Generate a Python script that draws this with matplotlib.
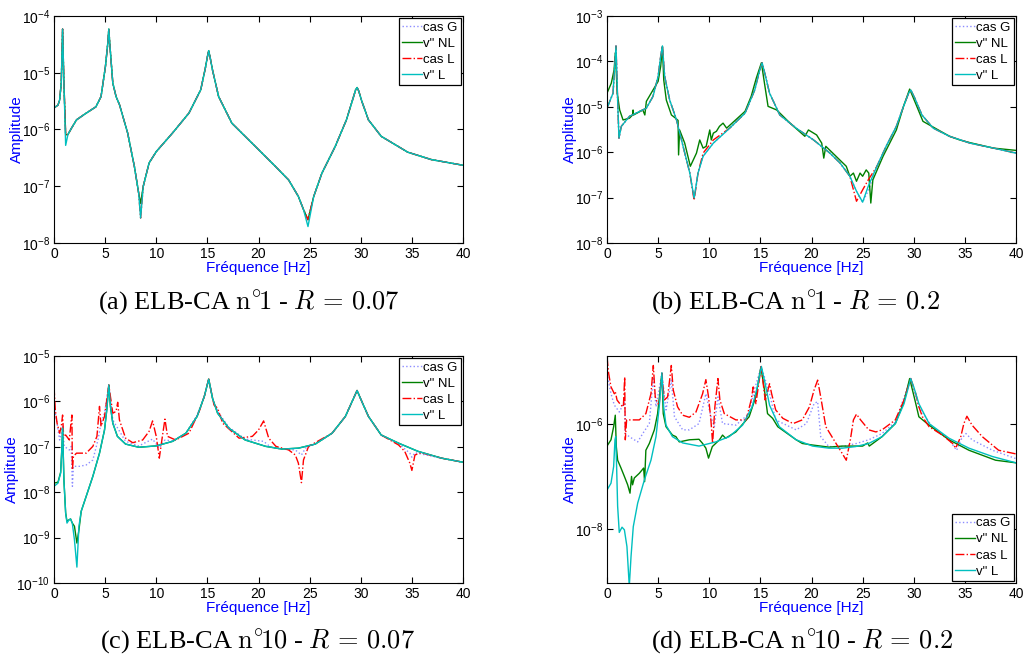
import numpy as np
import matplotlib
matplotlib.use("Agg")
import matplotlib.pyplot as plt
from matplotlib.ticker import NullLocator

plt.rcParams['font.family'] = ['Liberation Sans', 'DejaVu Sans']

# amplitudes are stored as log10 values

# (a) ELB-CA n°1 - R = 0.07
f_a = [0, 0.39, 0.55, 0.71, 0.84, 0.97, 1.14, 1.36, 1.7, 2.2,
       3.0, 4.1, 4.6, 5.03, 5.26, 5.36, 5.46, 5.75, 6.07, 6.4,
       7.2, 7.86, 8.28, 8.47, 8.73, 9.3, 10, 11.6, 13.2, 14.35,
       14.8, 15.0, 15.13, 15.28, 15.5, 16.1, 17.4, 19.7, 21.65, 22.95,
       23.9, 24.4, 24.84, 25.4, 26.2, 27.5, 28.6, 29.3, 29.5, 29.64,
       29.8, 30.1, 30.75, 32, 34.6, 36.9, 40]
a_casG = [-5.62, -5.57, -5.48, -5.18, -4.23, -5.18, -6.09, -6.09, -5.98, -5.83,
          -5.73, -5.60, -5.42, -4.89, -4.48, -4.23, -4.50, -5.18, -5.42, -5.56,
          -6.06, -6.65, -7.12, -7.30, -7.00, -6.59, -6.39, -6.06, -5.71, -5.30,
          -4.92, -4.72, -4.61, -4.74, -4.95, -5.42, -5.89, -6.30, -6.65, -6.89,
          -7.18, -7.41, -7.59, -7.18, -6.77, -6.30, -5.83, -5.42, -5.30, -5.26,
          -5.32, -5.50, -5.83, -6.12, -6.40, -6.53, -6.63]
a_vNL = [-5.62, -5.57, -5.48, -5.18, -4.23, -5.18, -6.09, -6.09, -5.98, -5.83,
         -5.73, -5.60, -5.42, -4.89, -4.48, -4.23, -4.50, -5.18, -5.42, -5.56,
         -6.06, -6.65, -7.12, -7.30, -7.00, -6.59, -6.39, -6.06, -5.71, -5.30,
         -4.92, -4.72, -4.61, -4.74, -4.95, -5.42, -5.89, -6.30, -6.65, -6.89,
         -7.18, -7.41, -7.59, -7.18, -6.77, -6.30, -5.83, -5.42, -5.30, -5.26,
         -5.32, -5.50, -5.83, -6.12, -6.40, -6.53, -6.63]
a_casL = [-5.62, -5.57, -5.48, -5.18, -4.23, -5.18, -6.09, -6.09, -5.98, -5.83,
          -5.73, -5.60, -5.42, -4.89, -4.48, -4.23, -4.50, -5.18, -5.42, -5.56,
          -6.06, -6.65, -7.12, -7.56, -7.00, -6.59, -6.39, -6.06, -5.71, -5.30,
          -4.92, -4.72, -4.61, -4.74, -4.95, -5.42, -5.89, -6.30, -6.65, -6.89,
          -7.18, -7.41, -7.59, -7.18, -6.77, -6.30, -5.83, -5.42, -5.30, -5.26,
          -5.32, -5.50, -5.83, -6.12, -6.40, -6.53, -6.63]
a_vL = [-5.62, -5.57, -5.48, -5.18, -4.23, -5.18, -6.28, -6.09, -5.98, -5.83,
        -5.73, -5.60, -5.42, -4.89, -4.48, -4.23, -4.50, -5.18, -5.42, -5.56,
        -6.06, -6.65, -7.12, -7.56, -7.00, -6.59, -6.39, -6.06, -5.71, -5.30,
        -4.92, -4.72, -4.61, -4.74, -4.95, -5.42, -5.89, -6.30, -6.65, -6.89,
        -7.18, -7.41, -7.71, -7.18, -6.77, -6.30, -5.83, -5.42, -5.30, -5.26,
        -5.32, -5.50, -5.83, -6.12, -6.40, -6.53, -6.63]

# (b) ELB-CA n°1 - R = 0.2
f_b = [0, 0.59, 0.88, 1.04, 1.17, 1.4, 2.2, 3.85, 4.5, 5.0,
       5.25, 5.42, 5.64, 6.13, 6.8, 7.44, 8.1, 8.52, 8.9, 9.4,
       10.4, 12, 13.5, 14.45, 14.94, 15.17, 15.43, 15.9, 16.9, 18.5,
       20.2, 21.8, 22.8, 23.75, 24.4, 25.0, 25.55, 26.4, 27.3, 28.3,
       29.0, 29.5, 29.72, 30.1, 30.8, 31.9, 33.5, 35.5, 37.8, 40]
b_casG = [-5.03, -4.70, -3.66, -4.85, -5.69, -5.43, -5.21, -5.03, -4.77, -4.33,
          -3.89, -3.66, -4.33, -4.85, -5.29, -5.87, -6.46, -7.03, -6.46, -6.09,
          -5.80, -5.47, -5.14, -4.63, -4.19, -4.03, -4.26, -4.70, -5.18, -5.47,
          -5.73, -6.02, -6.24, -6.53, -6.86, -7.10, -6.85, -6.31, -5.87, -5.43,
          -4.99, -4.70, -4.63, -4.81, -5.18, -5.47, -5.65, -5.80, -5.91, -6.02]
b_casL = [-5.03, -4.70, -3.66, -4.85, -5.69, -5.43, -5.21, -5.03, -4.77, -4.33,
          -3.89, -3.66, -4.33, -4.85, -5.29, -5.87, -6.46, -7.06, -6.46, -6.02,
          -5.73, -5.47, -5.14, -4.63, -4.19, -4.03, -4.26, -4.70, -5.18, -5.47,
          -5.73, -6.02, -6.24, -6.53, -7.08, -6.83, -6.61, -6.31, -5.87, -5.43,
          -4.99, -4.70, -4.63, -4.81, -5.18, -5.47, -5.65, -5.80, -5.91, -6.02]
b_vL = [-5.03, -4.70, -3.66, -4.85, -5.69, -5.43, -5.21, -5.03, -4.77, -4.33,
        -3.89, -3.66, -4.33, -4.85, -5.29, -5.87, -6.46, -7.01, -6.46, -6.09,
        -5.80, -5.47, -5.14, -4.63, -4.19, -4.03, -4.26, -4.70, -5.18, -5.47,
        -5.73, -6.02, -6.24, -6.53, -6.86, -7.10, -6.75, -6.31, -5.87, -5.43,
        -4.99, -4.70, -4.63, -4.81, -5.18, -5.47, -5.65, -5.80, -5.91, -6.02]
f_b_vNL = [0, 0.42, 0.69, 0.82, 1.0, 1.24, 1.57, 2.2, 2.5, 2.55,
           2.6, 3.5, 3.7, 3.85, 4.5, 5.0, 5.25, 5.42, 5.55, 5.8,
           6.3, 6.7, 6.95, 7.0, 7.1, 7.6, 8.15, 8.75, 9.07, 9.4,
           9.7, 10.05, 10.2, 10.4, 10.7, 11.0, 11.35, 11.7, 13.5, 14.1,
           14.6, 15.1, 15.4, 15.75, 16.6, 17.9, 19.35, 19.7, 20.5, 21.0,
           21.2, 21.4, 22.4, 23.4, 23.75, 24.1, 24.4, 24.75, 25.0, 25.35,
           25.6, 25.8, 26.0, 27.0, 28.3, 29.0, 29.6, 30.3, 30.9, 33.5,
           34.5, 35.5, 37.8, 40]
b_vNL = [-4.70, -4.48, -4.19, -3.81, -4.70, -5.07, -5.29, -5.25, -5.18, -5.07,
         -5.18, -5.07, -5.18, -4.88, -4.63, -4.44, -4.11, -3.67, -4.41, -4.85,
         -5.18, -5.25, -5.30, -6.06, -5.51, -5.80, -6.31, -6.02, -5.73, -5.91,
         -5.87, -5.51, -5.73, -5.58, -5.54, -5.43, -5.36, -5.47, -5.10, -4.77,
         -4.37, -4.03, -4.48, -4.99, -5.07, -5.36, -5.65, -5.51, -5.62, -5.80,
         -6.13, -5.87, -6.09, -6.31, -6.53, -6.46, -6.64, -6.46, -6.53, -6.39,
         -6.46, -7.12, -6.61, -6.09, -5.51, -4.99, -4.61, -4.99, -5.32, -5.65,
         -5.73, -5.79, -5.91, -5.96]

# (c) ELB-CA n°10 - R = 0.07
f_c = [0, 0.39, 0.65, 0.78, 0.84, 0.97, 1.14, 1.27, 1.46, 1.62,
       1.79, 2.0, 2.24, 2.44, 2.66, 3.15, 3.8, 4.45, 4.94, 5.16,
       5.36, 5.52, 5.75, 6.2, 7.0, 8.3, 10, 11.6, 12.9, 14.0,
       14.7, 15.13, 15.5, 16.0, 17.1, 18.7, 20.7, 22.3, 23.9, 25.55,
       27.2, 28.5, 29.3, 29.64, 30.1, 30.75, 32, 33.7, 35.6, 37.9,
       40]
c_vNL = [-7.80, -7.78, -7.56, -6.99, -6.59, -7.73, -8.46, -8.64, -8.61, -8.59,
         -8.68, -8.75, -9.12, -8.83, -8.42, -8.09, -7.65, -7.14, -6.63, -6.19,
         -5.64, -6.11, -6.48, -6.77, -6.94, -7.01, -6.98, -6.88, -6.70, -6.33,
         -5.89, -5.51, -5.93, -6.26, -6.59, -6.85, -6.99, -7.05, -7.03, -6.94,
         -6.70, -6.33, -5.93, -5.76, -6.00, -6.33, -6.74, -6.92, -7.10, -7.25,
         -7.34]
c_vL = [-7.87, -7.80, -7.58, -6.99, -6.59, -7.73, -8.46, -8.68, -8.61, -8.59,
        -8.68, -9.05, -9.65, -8.75, -8.42, -8.09, -7.65, -7.14, -6.63, -6.19,
        -5.64, -6.11, -6.48, -6.77, -6.94, -7.01, -6.98, -6.88, -6.70, -6.33,
        -5.89, -5.51, -5.93, -6.26, -6.59, -6.85, -6.99, -7.05, -7.03, -6.94,
        -6.70, -6.33, -5.93, -5.76, -6.00, -6.33, -6.74, -6.92, -7.10, -7.25,
        -7.34]
f_c_casL = [0, 0.13, 0.3, 0.55, 0.71, 0.84, 0.94, 1.14, 1.5, 1.69,
            1.75, 1.8, 1.9, 2.2, 3.15, 3.8, 4.2, 4.45, 4.6, 4.94,
            5.36, 5.75, 6.07, 6.23, 6.4, 7.0, 7.7, 8.67, 9.3, 9.64,
            10.0, 10.3, 10.6, 10.85, 11.1, 11.9, 13.2, 14.2, 14.7, 15.13,
            15.65, 16.0, 16.5, 18.1, 19.4, 20.0, 20.5, 21.0, 21.7, 22.95,
            23.6, 23.9, 24.2, 24.4, 24.9, 27.2, 28.5, 29.3, 29.64, 30.1,
            30.75, 32, 33.7, 34.3, 34.8, 35.0, 35.3, 35.9, 37.9, 40]
c_casL = [-5.67, -6.19, -6.48, -6.70, -6.55, -6.30, -6.77, -6.74, -6.85, -6.41,
          -6.30, -7.51, -7.21, -7.14, -7.14, -6.99, -6.77, -6.11, -6.55, -6.33,
          -5.64, -6.26, -6.22, -6.02, -6.41, -6.81, -6.91, -6.85, -6.66, -6.43,
          -6.77, -7.25, -6.77, -6.39, -6.77, -6.85, -6.70, -6.22, -5.89, -5.51,
          -6.08, -6.15, -6.48, -6.81, -6.77, -6.63, -6.43, -6.81, -6.99, -7.07,
          -7.18, -7.36, -7.79, -7.29, -6.99, -6.70, -6.33, -5.93, -5.76, -6.00,
          -6.33, -6.74, -6.96, -7.10, -7.36, -7.52, -7.18, -7.13, -7.25, -7.34]
f_c_casG = [0, 0.3, 0.55, 0.84, 1.0, 1.5, 1.69, 1.8, 1.9, 2.5,
            3.15, 3.8, 4.3, 4.6, 4.94, 5.36, 5.75, 6.23, 7.0, 8.3,
            9.64, 10.3, 10.85, 11.6, 12.9, 14.0, 14.7, 15.13, 15.5, 16.0,
            17.1, 18.7, 20.5, 21.2, 22.3, 23.6, 24.2, 24.6, 25.55, 27.2,
            28.5, 29.3, 29.64, 30.1, 30.75, 32, 33.7, 34.8, 35.0, 35.3,
            37.9, 40]
c_casG = [-6.11, -6.48, -6.85, -6.55, -6.99, -7.07, -6.99, -7.87, -7.43, -7.43,
          -7.40, -7.29, -6.85, -6.48, -6.26, -5.64, -6.41, -6.59, -6.88, -6.98,
          -6.83, -7.03, -6.85, -6.87, -6.70, -6.30, -5.89, -5.51, -5.93, -6.22,
          -6.57, -6.83, -6.88, -7.01, -7.05, -7.07, -7.18, -7.03, -6.94, -6.70,
          -6.33, -5.93, -5.76, -6.00, -6.33, -6.74, -6.93, -7.14, -7.23, -7.13,
          -7.25, -7.34]

# (d) ELB-CA n°10 - R = 0.2
f_d_vL = [0, 0.39, 0.65, 0.78, 0.85, 0.94, 1.04, 1.2, 1.47, 1.7,
          1.95, 2.18, 2.35, 2.57, 3.0, 3.65, 4.3, 4.79, 5.11, 5.37,
          5.54, 5.77, 6.4, 7.4, 9.0, 10.65, 11.95, 13.26, 14.2, 14.7,
          15.1, 15.47, 15.9, 16.85, 18.5, 20.1, 21.7, 23.0, 24.3, 25.6,
          26.9, 28.2, 29.05, 29.7, 30.0, 30.5, 31.5, 33.45, 35.4, 37.7,
          40]
d_vL = [-7.26, -7.13, -6.81, -6.30, -6.24, -6.81, -7.57, -8.07, -7.97, -8.02,
        -8.34, -9.10, -8.53, -7.96, -7.51, -7.07, -6.69, -6.24, -5.67, -5.02,
        -5.67, -6.02, -6.24, -6.36, -6.42, -6.34, -6.24, -6.02, -5.67, -5.29,
        -4.90, -5.23, -5.64, -6.05, -6.30, -6.42, -6.46, -6.46, -6.43, -6.37,
        -6.24, -5.99, -5.61, -5.13, -5.29, -5.61, -5.99, -6.27, -6.46, -6.62,
        -6.74]
f_d_vNL = [0, 0.39, 0.65, 0.81, 0.91, 1.04, 1.37, 1.7, 2.02, 2.25,
           2.4, 2.5, 2.67, 3.16, 3.58, 3.68, 3.8, 4.14, 4.63, 4.95,
           5.2, 5.37, 5.5, 5.77, 6.4, 6.74, 7.07, 8.05, 9.0, 9.35,
           9.67, 9.93, 10.3, 11.0, 11.3, 11.6, 12.6, 13.9, 14.55, 15.05,
           15.4, 15.7, 16.2, 16.7, 18.5, 19.1, 20.1, 21.7, 23.0, 25.0,
           25.5, 25.65, 26.9, 28.2, 29.05, 29.6, 30.2, 30.5, 31.5, 33.45,
           35.4, 38.0, 40]
d_vNL = [-6.42, -6.30, -6.05, -5.83, -6.43, -6.69, -6.84, -7.00, -7.16, -7.32,
         -7.00, -7.16, -7.03, -6.94, -6.84, -7.10, -6.50, -6.37, -6.11, -5.80,
         -5.35, -5.03, -5.80, -6.05, -6.21, -6.24, -6.34, -6.30, -6.29, -6.37,
         -6.46, -6.65, -6.43, -6.30, -6.21, -6.27, -6.15, -5.86, -5.48, -4.91,
         -5.35, -5.80, -5.89, -6.05, -6.30, -6.37, -6.40, -6.44, -6.42, -6.42,
         -6.36, -6.42, -6.24, -5.99, -5.57, -5.13, -5.61, -5.86, -6.02, -6.30,
         -6.50, -6.69, -6.74]
f_d_casL = [0, 0.16, 0.39, 0.72, 0.81, 0.98, 1.37, 1.6, 1.73, 1.79,
            1.92, 2.18, 3.16, 3.8, 4.3, 4.53, 4.72, 4.95, 5.11, 5.37,
            5.6, 5.93, 6.16, 6.29, 6.48, 6.9, 7.4, 8.05, 8.7, 9.35,
            9.67, 9.93, 10.16, 10.33, 10.55, 10.85, 11.04, 11.47, 12.6, 13.6,
            14.1, 14.3, 14.56, 15.08, 15.47, 15.9, 16.1, 16.5, 17.2, 18.2,
            19.1, 19.8, 20.25, 20.6, 20.9, 21.4, 22.4, 23.0, 23.4, 23.8,
            24.1, 24.4, 24.8, 25.6, 26.3, 26.9, 28.2, 29.05, 29.7, 30.2,
            30.5, 30.85, 31.5, 32.8, 33.8, 34.1, 34.6, 34.9, 35.2, 35.7,
            36.7, 38.3, 40]
d_casL = [-4.72, -5.03, -5.29, -5.42, -5.38, -5.54, -5.64, -5.67, -5.10, -6.30,
          -5.92, -5.92, -5.92, -5.80, -5.42, -4.88, -5.48, -5.61, -5.61, -5.03,
          -5.54, -5.48, -5.10, -4.88, -5.35, -5.67, -5.83, -5.87, -5.77, -5.42,
          -5.15, -5.48, -5.92, -6.37, -5.67, -5.13, -5.54, -5.80, -5.92, -5.92,
          -5.54, -5.29, -5.61, -4.90, -5.54, -5.23, -5.42, -5.73, -5.89, -5.99,
          -5.92, -5.67, -5.35, -5.16, -5.48, -6.05, -6.37, -6.56, -6.69, -6.30,
          -5.92, -5.81, -5.92, -6.11, -6.15, -6.11, -5.92, -5.54, -5.13, -5.42,
          -5.67, -5.86, -6.05, -6.21, -6.37, -6.46, -6.24, -5.99, -5.85, -6.02,
          -6.24, -6.50, -6.57]
f_d_casG = [0, 0.39, 0.72, 0.85, 1.2, 1.73, 1.79, 2.18, 3.0, 3.5,
            4.14, 4.53, 4.79, 5.37, 5.77, 6.29, 6.6, 7.4, 8.05, 9.0,
            9.67, 10.16, 10.5, 10.85, 11.3, 12.6, 13.9, 14.3, 15.08, 15.9,
            16.5, 18.5, 19.5, 20.25, 20.6, 20.9, 21.7, 23.0, 24.4, 25.6,
            26.9, 28.2, 29.7, 30.5, 31.8, 33.45, 34.2, 34.6, 35.1, 35.7,
            37.7, 40]
d_casG = [-5.03, -5.42, -5.64, -5.67, -5.77, -5.57, -6.18, -6.24, -6.34, -6.18,
          -5.99, -5.10, -5.67, -5.03, -5.73, -5.16, -5.86, -6.11, -6.11, -5.99,
          -5.42, -5.86, -6.05, -5.48, -5.99, -6.02, -5.80, -5.42, -4.90, -5.42,
          -5.92, -6.11, -5.99, -5.61, -5.57, -6.24, -6.43, -6.43, -6.37, -6.30,
          -6.18, -5.96, -5.13, -5.67, -6.05, -6.30, -6.50, -6.30, -6.18, -6.30,
          -6.50, -6.66]

labels = ['cas G', 'v" NL', 'cas L', 'v" L']
colors = ['#8c8cff', '#008000', 'red', '#00bfbf']
styles = [':', '-', '-.', '-']

panels = [
    dict(pos=[54, 16], series=[(f_a, a_casG), (f_a, a_vNL), (f_a, a_casL), (f_a, a_vL)],
         ylim=(1e-8, 1e-4), yticks=[1e-8, 1e-7, 1e-6, 1e-5, 1e-4], loc='upper right',
         cap=r"(a) ELB-CA $\mathrm{n}^{\circ}\!1$ - $R\, =\, 0.07$", capx=249, capy=302),
    dict(pos=[607, 16], series=[(f_b, b_casG), (f_b_vNL, b_vNL), (f_b, b_casL), (f_b, b_vL)],
         ylim=(1e-8, 1e-3), yticks=[1e-8, 1e-7, 1e-6, 1e-5, 1e-4, 1e-3], loc='upper right',
         cap=r"(b) ELB-CA $\mathrm{n}^{\circ}\!1$ - $R\, =\, 0.2$", capx=796, capy=302),
    dict(pos=[54, 356], series=[(f_c_casG, c_casG), (f_c, c_vNL), (f_c_casL, c_casL), (f_c, c_vL)],
         ylim=(1e-10, 1e-5), yticks=[1e-10, 1e-9, 1e-8, 1e-7, 1e-6, 1e-5], loc='upper right',
         cap=r"(c) ELB-CA $\mathrm{n}^{\circ}\!10$ - $R\, =\, 0.07$", capx=257, capy=641),
    dict(pos=[607, 356], series=[(f_d_casG, d_casG), (f_d_vNL, d_vNL), (f_d_casL, d_casL), (f_d_vL, d_vL)],
         ylim=(9.2e-10, 2e-5), yticks=[1e-8, 1e-6], loc='lower right',
         cap=r"(d) ELB-CA $\mathrm{n}^{\circ}\!10$ - $R\, =\, 0.2$", capx=802, capy=641),
]

W, H = 1023, 658
fig = plt.figure(figsize=(W / 100, H / 100), dpi=100)

for p in panels:
    left, top = p['pos']
    ax = fig.add_axes([left / W, 1 - (top + 227) / H, 409 / W, 227 / H])

    for (f, amp), lab, c, ls in zip(p['series'], labels, colors, styles):
        ax.plot(f, 10 ** np.array(amp), ls, color=c, lw=1.0, label=lab)

    ax.set_yscale('log')
    ax.set_xlim(0, 40)
    ax.set_ylim(*p['ylim'])
    ax.set_xticks(range(0, 41, 5))
    ax.set_yticks(p['yticks'])
    ax.yaxis.set_minor_locator(NullLocator())
    ax.tick_params(direction='in', top=True, right=True, labelsize=10, length=4, pad=3)
    for s in ax.spines.values():
        s.set_linewidth(0.8)

    ax.set_xlabel('Fréquence [Hz]', color='blue', fontsize=11, labelpad=0)
    ax.set_ylabel('Amplitude', color='blue', fontsize=11, labelpad=-2)

    leg = ax.legend(loc=p['loc'], fontsize=9.5, fancybox=False, framealpha=1,
                    edgecolor='black', borderpad=0.25, labelspacing=0.3,
                    handlelength=1.5, handletextpad=0.1, borderaxespad=0.15)
    leg.get_frame().set_linewidth(0.9)

    fig.text(p['capx'] / W, 1 - p['capy'] / H, p['cap'], ha='center', va='center',
             fontsize=19, family='Liberation Serif', math_fontfamily='cm')

fig.savefig('out.png', dpi=100)
